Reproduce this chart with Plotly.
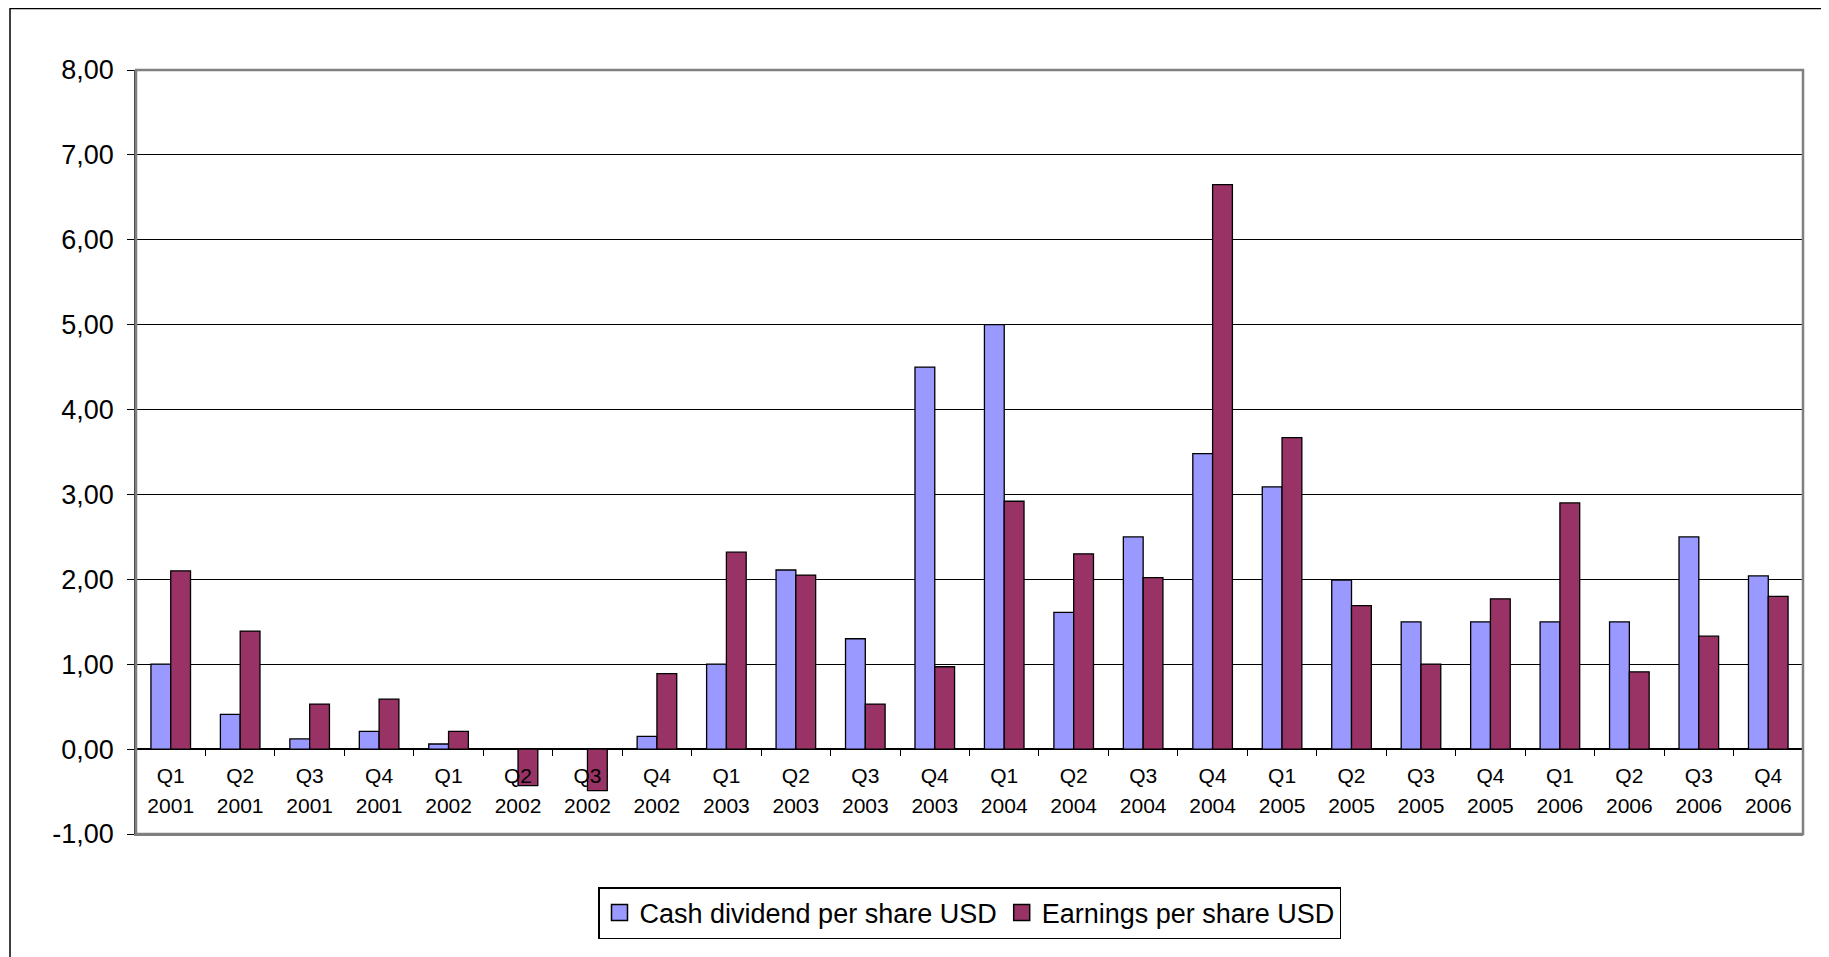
import plotly.graph_objects as go

quarters = ["Q1", "Q2", "Q3", "Q4"] * 6
years = [y for y in ["2001", "2002", "2003", "2004", "2005", "2006"] for _ in range(4)]
categories = [f"{q} {y}" for q, y in zip(quarters, years)]

dividend = [1.00, 0.41, 0.12, 0.21, 0.06, 0.00, 0.00, 0.15,
            1.00, 2.11, 1.30, 4.50, 5.00, 1.61, 2.50, 3.48,
            3.09, 1.99, 1.50, 1.50, 1.50, 1.50, 2.50, 2.04]
earnings = [2.10, 1.39, 0.53, 0.59, 0.21, -0.43, -0.49, 0.89,
            2.32, 2.05, 0.53, 0.97, 2.92, 2.30, 2.02, 6.65,
            3.67, 1.69, 1.00, 1.77, 2.90, 0.91, 1.33, 1.80]
series_names = ["Cash dividend per share USD", "Earnings per share USD"]
series_colors = ["#9999FF", "#993366"]
y_ticks = [-1, 0, 1, 2, 3, 4, 5, 6, 7, 8]
y_ticktext = [f"{v:.2f}".replace(".", ",") for v in y_ticks]

W, H = 1829, 957
ml, mr, mt, mb = 128, 34, 62, 131
# on-screen plot area (page has an 8px body offset)
left, top = 135, 70
pw, ph = W - ml - mr, H - mt - mb
bottom = top + ph

fig = go.Figure()
for vals, name, color in zip([dividend, earnings], series_names, series_colors):
    fig.add_trace(go.Bar(x=categories, y=vals, name=name, showlegend=False,
                         marker=dict(color=color, line=dict(color="black", width=1.3))))
# legend entries with larger square swatches
for name, color in zip(series_names, series_colors):
    fig.add_trace(go.Scatter(x=[None], y=[None], mode="markers", name=name,
                             marker=dict(symbol="square", size=18, color=color,
                                         line=dict(color="black", width=1.5))))
# invisible traces carrying the category label axes that sit on the zero line
for ax in ("x2", "x3"):
    fig.add_trace(go.Bar(x=categories, y=[0] * len(categories), xaxis=ax, showlegend=False,
                         hoverinfo="skip",
                         marker=dict(color="rgba(0,0,0,0)", line=dict(width=0))))

label_font = dict(size=21, family="Liberation Sans, Arial, sans-serif", color="black")

fig.update_layout(
    width=W, height=H,
    margin=dict(l=ml, r=mr, t=mt, b=mb),
    paper_bgcolor="white", plot_bgcolor="white",
    barmode="group", bargap=0.43, bargroupgap=0,
    font=dict(family="Liberation Sans, Arial, sans-serif", color="black"),
    showlegend=True,
    legend=dict(orientation="h", x=(597 - left) / pw, y=(bottom - 887) / ph,
                xanchor="left", yanchor="top",
                bordercolor="black", borderwidth=1.5,
                font=dict(family="Liberation Sans, Arial, sans-serif", size=27),
                traceorder="normal", itemsizing="trace", itemwidth=30),
    xaxis=dict(showticklabels=False, ticks="", showgrid=False, showline=True,
               linecolor="#808080", linewidth=2, zeroline=False, fixedrange=True),
    xaxis2=dict(overlaying="x", anchor="free", position=1 / 9, side="bottom",
                matches="x", showgrid=False, showline=False, zeroline=False,
                ticks="outside", tickson="boundaries", ticklen=6, tickcolor="black",
                tickvals=categories, ticktext=quarters, ticklabelstandoff=12,
                tickfont=label_font),
    xaxis3=dict(overlaying="x", anchor="free", position=1 / 9, side="bottom",
                matches="x", showgrid=False, showline=False, zeroline=False,
                ticks="", tickvals=categories, ticktext=years, ticklabelstandoff=42,
                tickfont=label_font),
    yaxis=dict(range=[-1, 8], tickvals=y_ticks, ticktext=y_ticktext,
               showgrid=True, gridcolor="black", gridwidth=1,
               zeroline=True, zerolinecolor="black", zerolinewidth=1.5,
               showline=True, linecolor="#404040", linewidth=1.5,
               ticks="outside", ticklen=7, tickcolor="black", ticklabelstandoff=8,
               tickfont=dict(size=27, family="Liberation Sans, Arial, sans-serif")),
    shapes=[
        dict(type="rect", xref="x domain", yref="y domain", x0=0, x1=1, y0=0, y1=1,
             line=dict(color="#808080", width=2.5), layer="above"),
        dict(type="rect", xref="paper", yref="paper",
             x0=(9 - left) / pw, x1=(1840 - left) / pw,
             y0=(bottom - 975) / ph, y1=(bottom - 8.5) / ph,
             line=dict(color="black", width=1.5), layer="below"),
    ],
)

fig.write_html("out.html")
